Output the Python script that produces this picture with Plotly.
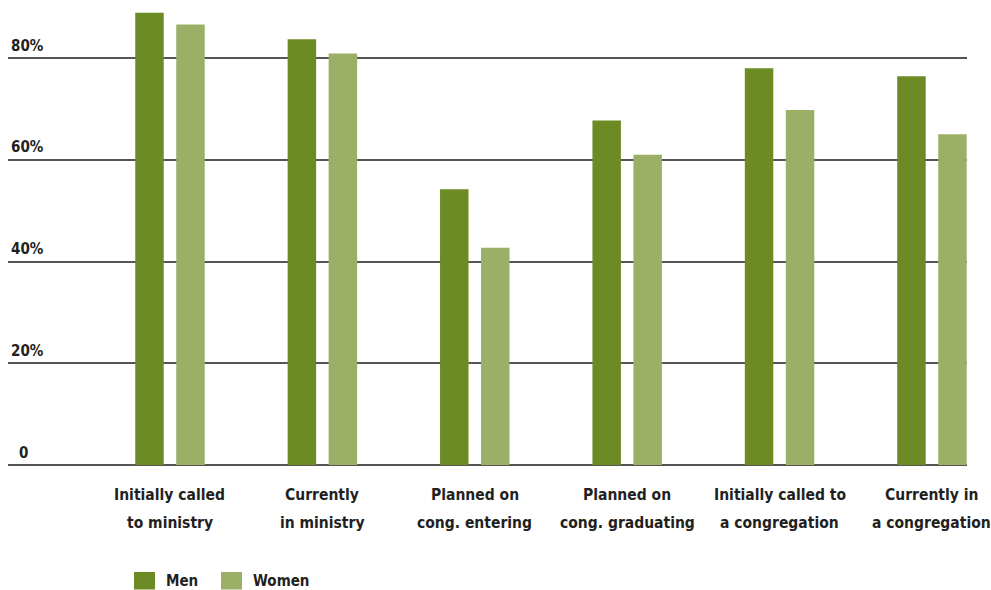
import plotly.graph_objects as go

categories = [
    "Initially called<br>to ministry",
    "Currently<br>in ministry",
    "Planned on<br>cong. entering",
    "Planned on<br>cong. graduating",
    "Initially called to<br>a congregation",
    "Currently in<br>a congregation",
]
men = [88.9, 83.7, 54.2, 67.7, 78.0, 76.4]
women = [86.6, 80.9, 42.7, 61.0, 69.8, 65.0]
tick_vals = [0, 20, 40, 60, 80]
tick_text = ["0", "20%", "40%", "60%", "80%"]
series_names = ["Men", "Women"]

FONT = "Liberation Sans Narrow, DejaVu Sans Condensed, sans-serif"
TXT = "#231f20"
COLORS = ["#6d8b24", "#9caf66"]


def f(size):
    return dict(family=FONT, size=size, color=TXT, weight="bold")


fig = go.Figure()
for name, vals, col in zip(series_names, [men, women], COLORS):
    fig.add_trace(go.Bar(x=categories, y=vals, name=name,
                         marker=dict(color=col, line=dict(width=0))))

W, H = 991, 590
ml, mr, mt, mb = 8, 24, 0, 125
PW, PH = W - ml - mr, H - mt - mb


def px_x(p):
    return (p - ml) / PW


def px_y(p):
    return (mt + PH - p) / PH


annotations = []
# y-axis labels above gridlines
for v, t in zip(tick_vals, tick_text):
    px = 17 if t == "0" else 9
    annotations.append(dict(
        x=px_x(px), xref="paper", xanchor="left",
        y=v, yref="y", yanchor="middle", yshift=12.5,
        text=t, showarrow=False, font=f(15),
    ))

# category labels, two lines each
for c in categories:
    for i, line in enumerate(c.split("<br>")):
        annotations.append(dict(
            x=c, xref="x", xanchor="center",
            y=0, yref="y", yanchor="middle", yshift=-29.5 - 28 * i,
            text=line, showarrow=False, font=f(15.5),
        ))

# legend
shapes = []
leg_sq = [134, 221]
for name, col, x0 in zip(series_names, COLORS, leg_sq):
    shapes.append(dict(type="rect", xref="paper", yref="paper",
                       x0=px_x(x0), x1=px_x(x0 + 21), y0=px_y(589.5), y1=px_y(572),
                       fillcolor=col, line=dict(width=0)))
    annotations.append(dict(
        x=px_x(x0 + 30), xref="paper", xanchor="left",
        y=px_y(581), yref="paper", yanchor="middle",
        text=name, showarrow=False, font=f(15),
    ))

fig.update_layout(
    width=W, height=H,
    margin=dict(l=ml, r=mr, t=mt, b=mb),
    paper_bgcolor="white", plot_bgcolor="white",
    barmode="group", bargap=0.462, bargroupgap=0.305,
    font=f(16),
    xaxis=dict(
        type="category", range=[-1.063, 5.230],
        showgrid=False, zeroline=False, showline=False, ticks="",
        showticklabels=False, automargin=False,
    ),
    yaxis=dict(
        range=[0, 91.4], tickvals=tick_vals, showticklabels=False,
        showgrid=True, gridcolor="#555555", gridwidth=1.5,
        zeroline=True, zerolinecolor="#555555", zerolinewidth=1.5,
        showline=False, ticks="", automargin=False,
    ),
    showlegend=False,
    annotations=annotations,
    shapes=shapes,
)

fig.write_html("out.html")
